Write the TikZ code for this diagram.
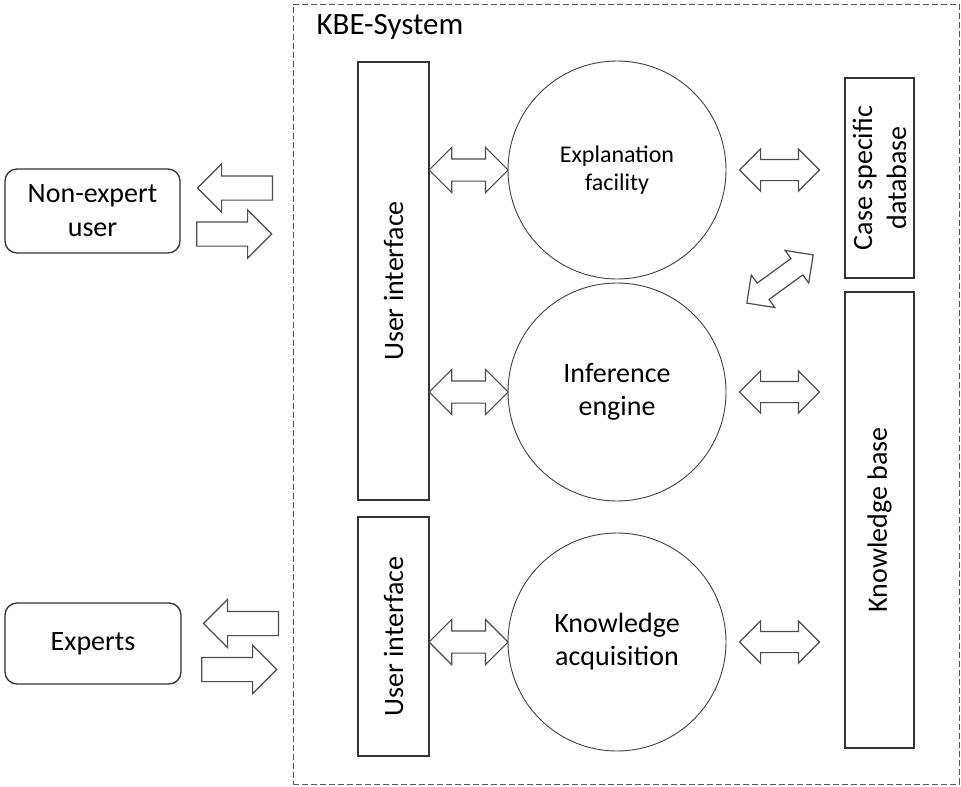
\documentclass[tikz,border=0pt]{standalone}
\usepackage{fontspec}
\setmainfont{Carlito}
\usetikzlibrary{shapes.arrows,calc,positioning}

\tikzset{
    block/.style={draw=black!80, line width=1.3pt, fill=white, inner sep=0pt},
    userbox/.style={block, rounded corners=12pt, align=center, font=\fontsize{28}{34}\selectfont},
    part/.style={draw=black!75, line width=0.9pt, circle, inner sep=0pt, minimum size=218pt, align=center, font=\fontsize{28}{33}\selectfont},
    dblarrow/.style={double arrow, draw=black!70, line width=1.2pt, fill=white, inner xsep=0pt, inner ysep=10.5pt, minimum height=79pt, double arrow head extend=11.5pt},
    sglarrow/.style={single arrow, draw=black!70, line width=1.2pt, fill=white, inner xsep=0pt, inner ysep=11.5pt, minimum height=75pt, single arrow head extend=12pt, anchor=tip},
    upright/.style={rotate=90, align=center, font=\fontsize{28}{34}\selectfont},
}

\begin{document}
\begin{tikzpicture}[x=1pt, y=-1pt]
\useasboundingbox (0,0) rectangle (961,787);

% system border
\node[draw=black!65, line width=0.9pt, dash pattern=on 6pt off 3pt, minimum width=666pt, minimum height=780pt] (kbe) at (626,394) {};
\node[anchor=base west, font=\fontsize{31}{36}\selectfont] (kbe-label) at (313,34) {KBE-System};

% users
\node[userbox, minimum width=175pt, minimum height=84pt] (neu) at (92.5,211) {Non-expert\\user};
\node[userbox, minimum width=176pt, minimum height=81pt] (exp) at (93,643.5) {Experts};

% user interfaces
\node[block, minimum width=71pt, minimum height=438pt] (ui1) at (393.5,281) {};
\node[upright] at (ui1.center) {User interface};
\node[block, minimum width=71pt, minimum height=239pt] (ui2) at (393.5,636.5) {};
\node[upright] at (ui2.center) {User interface};

% components
\node[part, font=\fontsize{24}{28}\selectfont] (ef) at (617,170) {Explanation\\facility};
\node[part] (ie) at (617,392) {Inference\\engine};
\node[part] (ka) at (617,642) {Knowledge\\acquisition};

% data stores
\node[block, minimum width=69pt, minimum height=200pt] (cs) at (879.5,178) {};
\node[upright] at (cs.center) {Case specific\\database};
\node[block, minimum width=69pt, minimum height=456pt] (kb) at (879.5,520) {};
\node[upright] at (kb.center) {Knowledge base};

% user <-> system
\coordinate (neu-sys) at (kbe.west |- neu);
\coordinate (exp-sys) at (kbe.west |- exp);
\node[sglarrow, shape border rotate=180] (neu-out) at ([xshift=16pt, yshift=23pt]neu.east) {};
\node[sglarrow] (neu-in) at ([xshift=-20pt, yshift=-23pt]neu-sys) {};
\node[sglarrow, shape border rotate=180] (exp-out) at ([xshift=21pt, yshift=20pt]exp.east) {};
\node[sglarrow] (exp-in) at ([xshift=-15pt, yshift=-26pt]exp-sys) {};

% interface <-> components
\node[dblarrow] (ui-ef) at ($(ui1.east |- ef)!0.5!(ef.west)$) {};
\node[dblarrow] (ui-ie) at ($(ui1.east |- ie)!0.5!(ie.west)$) {};
\node[dblarrow] (ui-ka) at ($(ui2.east |- ka)!0.5!(ka.west)$) {};

% components <-> data
\node[dblarrow, minimum height=80pt, inner ysep=10pt, double arrow head extend=10.5pt] (ef-cs) at ($(ef.east)!0.45!(cs.west |- ef)$) {};
\node[dblarrow, minimum height=80pt, inner ysep=10pt, double arrow head extend=10.5pt] (ie-kb) at ($(ie.east)!0.45!(kb.west |- ie)$) {};
\node[dblarrow, minimum height=80pt, inner ysep=10pt, double arrow head extend=10.5pt] (ka-kb) at ($(ka.east)!0.45!(kb.west |- ka)$) {};
\node[dblarrow, minimum height=82pt, inner ysep=9.5pt, double arrow head extend=10pt, rotate=36] (ie-cs) at (780,279) {};

\end{tikzpicture}
\end{document}
